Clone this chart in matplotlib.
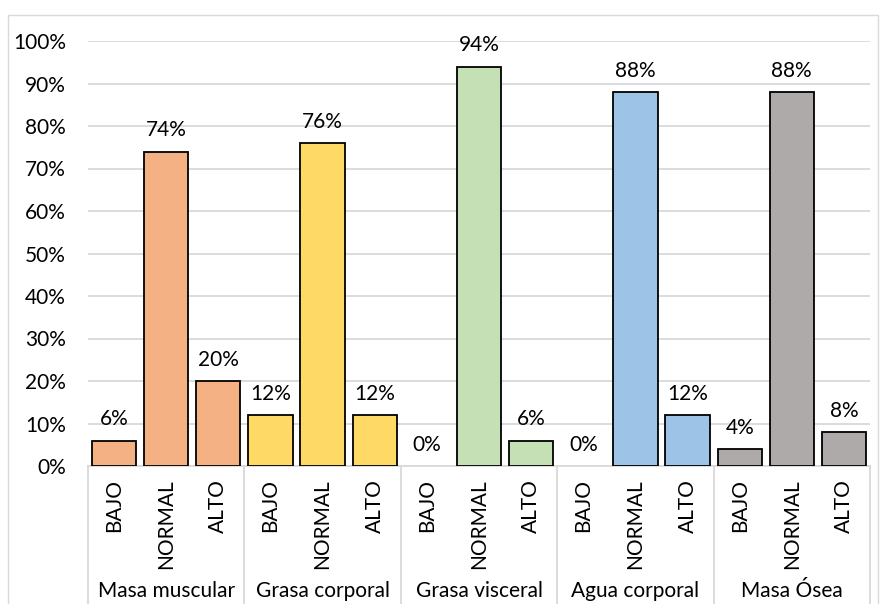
import matplotlib.pyplot as plt
import matplotlib.patches as patches
from matplotlib import transforms

plt.rcParams['font.family'] = ['Lato', 'DejaVu Sans']

groups = ['Masa muscular', 'Grasa corporal', 'Grasa visceral', 'Agua corporal', 'Masa Ósea']
levels = ['BAJO', 'NORMAL', 'ALTO']
masa_muscular = [6, 74, 20]
grasa_corporal = [12, 76, 12]
grasa_visceral = [0, 94, 6]
agua_corporal = [0, 88, 12]
masa_osea = [4, 88, 8]
colors = ['#F4B183', '#FFD966', '#C5E0B4', '#9DC3E6', '#AEAAAA']

series = [masa_muscular, grasa_corporal, grasa_visceral, agua_corporal, masa_osea]
fs = 15

fig = plt.figure(figsize=(8.8, 6.04), dpi=100)
fig.patches.append(patches.Rectangle((8/880, -0.01), 870/880, (604-15)/604 + 0.01,
                                     transform=fig.transFigure, fill=False,
                                     edgecolor='#D9D9D9', linewidth=1))
ax = fig.add_axes([88/880, (604-466)/604, (870-88)/880, (466-41)/604])

for g, vals in enumerate(series):
    for i, v in enumerate(vals):
        x = g*3 + i
        if v > 0:
            ax.bar(x, v, width=0.85, color=colors[g], edgecolor='black', linewidth=1.3, zorder=3)
        ax.annotate(f'{v}%', (x, v), xytext=(0, 8), textcoords='offset points',
                    ha='center', va='bottom', fontsize=fs)

ax.set_xlim(-0.5, 14.5)
ax.set_ylim(0, 100)
ax.set_yticks(range(0, 101, 10))
ax.set_yticklabels([f'{t}%' for t in range(0, 101, 10)], fontsize=fs)
ax.yaxis.grid(True, color='#D9D9D9', linewidth=1.3, zorder=0)
ax.set_axisbelow(True)
ax.tick_params(axis='y', length=0, pad=16)
ax.set_xticks([])
for s in ['top', 'right', 'left']:
    ax.spines[s].set_visible(False)
ax.spines['bottom'].set_color('#D9D9D9')
ax.spines['bottom'].set_linewidth(1.3)

trans = transforms.blended_transform_factory(ax.transData, ax.transAxes)
bottom = -(604 - 466 + 5) / (466 - 41)
for g in range(6):
    ax.plot([g*3 - 0.5, g*3 - 0.5], [0, bottom], transform=trans, color='#D9D9D9',
            linewidth=1.3, clip_on=False)
for g, name in enumerate(groups):
    for i, lev in enumerate(levels):
        ax.text(g*3 + i, -(479 - 466) / 425, lev, transform=trans, rotation=90,
                ha='center', va='top', fontsize=fs)
    ax.text(g*3 + 1, -(591 - 466) / 425, name, transform=trans,
            ha='center', va='center', fontsize=fs)

fig.savefig('out.png', dpi=100)
